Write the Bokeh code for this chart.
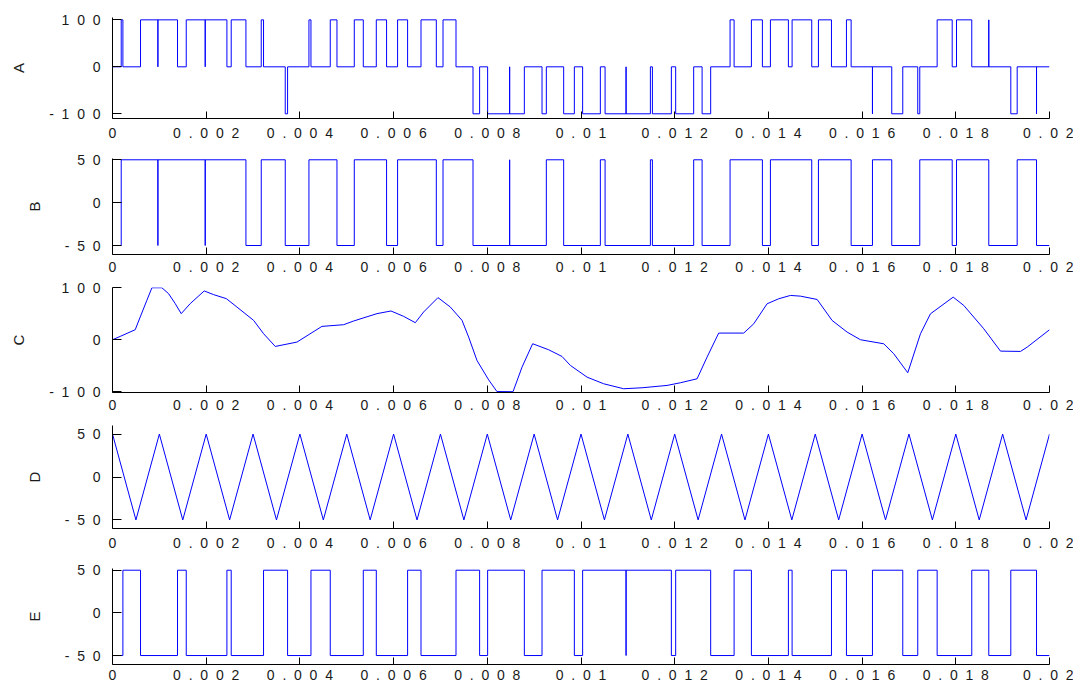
from bokeh.plotting import figure
from bokeh.layouts import column
from bokeh.models import FixedTicker, Range1d, Label
from bokeh.embed import file_html
from bokeh.resources import INLINE

X_TICKS = [0, 0.002, 0.004, 0.006, 0.008, 0.01, 0.012, 0.014, 0.016, 0.018, 0.02]
X_LABELS = ["0", "0.002", "0.004", "0.006", "0.008", "0.01", "0.012", "0.014", "0.016", "0.018", "0.02"]

A_t = [0, 0.000186, 0.000222, 0.000598, 0.000969, 0.000969, 0.001388, 0.001574, 0.001979, 0.001979,
       0.002442, 0.002534, 0.002848, 0.003175, 0.003224, 0.003687, 0.003737, 0.004193, 0.004236, 0.004648,
       0.004791, 0.005161, 0.005353, 0.005631, 0.005850, 0.006085, 0.006299, 0.006585, 0.006912, 0.007055,
       0.007332, 0.007695, 0.007836, 0.008007, 0.008477, 0.008477, 0.008791, 0.009168, 0.009260, 0.009630,
       0.009858, 0.010035, 0.010413, 0.010514, 0.010962, 0.010962, 0.011481, 0.011524, 0.011929, 0.012021,
       0.012405, 0.012585, 0.012768, 0.013182, 0.013268, 0.013637, 0.013872, 0.014043, 0.014427, 0.014506,
       0.014925, 0.015068, 0.015346, 0.015666, 0.015766, 0.016221, 0.016221, 0.016633, 0.016868, 0.017188,
       0.017231, 0.017602, 0.017923, 0.018015, 0.018341, 0.018704, 0.018704, 0.019174, 0.019310, 0.019723,
       0.019723, 0.02]
A_v = [0, 100, 0, 100, 0, 100, 0, 100, 0, 100,
       0, 100, 0, 100, 0, -100, 0, 100, 0, 100,
       0, 100, 0, 100, 0, 100, 0, 100, 0, 100,
       0, -100, 0, -100, 0, -100, 0, -100, 0, -100,
       0, -100, 0, -100, 0, -100, 0, -100, 0, -100,
       0, -100, 0, 100, 0, 100, 0, 100, 0, 100,
       0, 100, 0, 100, 0, -100, 0, -100, 0, -100,
       0, 100, 0, 100, 0, 100, 0, -100, 0, -100,
       0, 0]
A_YTICKS = [-100, 0, 100]
A_YLABELS = ["-100", "0", "100"]

B_t = [0, 0.000186, 0.000969, 0.000969, 0.001979, 0.001979, 0.002848, 0.003175, 0.003687, 0.004193,
       0.004791, 0.005161, 0.005850, 0.006085, 0.006912, 0.007055, 0.007695, 0.008477, 0.008477, 0.009260,
       0.009630, 0.010413, 0.010514, 0.011481, 0.011524, 0.012405, 0.012585, 0.013182, 0.013872, 0.014043,
       0.014925, 0.015068, 0.015766, 0.016221, 0.016633, 0.017231, 0.017923, 0.018015, 0.018704, 0.019310,
       0.019723, 0.02]
B_v = [-50, 50, -50, 50, -50, 50, -50, 50, -50, 50,
       -50, 50, -50, 50, -50, 50, -50, 50, -50, 50,
       -50, 50, -50, 50, -50, 50, -50, 50, -50, 50,
       -50, 50, -50, 50, -50, 50, -50, 50, -50, 50,
       -50, -50]
B_YTICKS = [-50, 0, 50]
B_YLABELS = ["-50", "0", "50"]

C_t = [0, 0.000164, 0.000485, 0.000591, 0.000734, 0.000841, 0.001054, 0.001196, 0.001339, 0.001467,
       0.001659, 0.001958, 0.002157, 0.002428, 0.002655, 0.003011, 0.003225, 0.003474, 0.003937, 0.004470,
       0.004933, 0.005146, 0.005645, 0.005944, 0.006214, 0.006463, 0.006641, 0.006947, 0.007210, 0.007460,
       0.007602, 0.007780, 0.008029, 0.008207, 0.008549, 0.008741, 0.008968, 0.009310, 0.009595, 0.009773,
       0.010129, 0.010484, 0.010911, 0.011303, 0.011837, 0.012121, 0.012478, 0.012691, 0.012939, 0.013473,
       0.013687, 0.013972, 0.014220, 0.014470, 0.014683, 0.015040, 0.015360, 0.015681, 0.015965, 0.016463,
       0.016676, 0.016975, 0.017246, 0.017459, 0.017944, 0.018170, 0.018597, 0.018954, 0.019381, 0.019524,
       0.02]
C_v = [0, 6.4, 19.3, 43.7, 75.9, 100, 100, 88.7, 69.5, 50.2,
       69.5, 93.9, 86.8, 79.1, 63.0, 37.3, 11.6, -12.9, -4.5, 25.7,
       28.9, 36.0, 50.2, 55.3, 45.0, 32.8, 53.4, 81.0, 63.0, 37.3,
       5.1, -39.9, -77.2, -99.7, -100, -52.7, -7.7, -19.3, -32.2, -49.4,
       -71.9, -84.7, -94.3, -92.4, -87.9, -82.8, -75.1, -33.4, 12.8, 12.8,
       30.7, 69.2, 78.8, 85.2, 83.9, 77.5, 37.1, 14.7, 0, -7.8,
       -27.0, -63.5, 11.5, 49.9, 82.0, 66.0, 21.1, -21.9, -22.5, -14.2,
       19.2]
C_YTICKS = [-100, 0, 100]
C_YLABELS = ["-100", "0", "100"]

D_t = [0, 0.0005, 0.001, 0.0015, 0.002, 0.0025, 0.003, 0.0035, 0.004, 0.0045,
       0.005, 0.0055, 0.006, 0.0065, 0.007, 0.0075, 0.008, 0.0085, 0.009, 0.0095,
       0.01, 0.0105, 0.011, 0.0115, 0.012, 0.0125, 0.013, 0.0135, 0.014, 0.0145,
       0.015, 0.0155, 0.016, 0.0165, 0.017, 0.0175, 0.018, 0.0185, 0.019, 0.0195,
       0.02]
D_v = [50, -50, 50, -50, 50, -50, 50, -50, 50, -50,
       50, -50, 50, -50, 50, -50, 50, -50, 50, -50,
       50, -50, 50, -50, 50, -50, 50, -50, 50, -50,
       50, -50, 50, -50, 50, -50, 50, -50, 50, -50,
       50]
D_YTICKS = [-50, 0, 50]
D_YLABELS = ["-50", "0", "50"]

E_t = [0, 0.000222, 0.000598, 0.001388, 0.001574, 0.002442, 0.002534, 0.003224, 0.003737, 0.004236,
       0.004648, 0.005353, 0.005631, 0.006299, 0.006585, 0.007332, 0.007836, 0.008007, 0.008791, 0.009168,
       0.009858, 0.010035, 0.010962, 0.010962, 0.011929, 0.012021, 0.012768, 0.013268, 0.013637, 0.014427,
       0.014506, 0.015346, 0.015666, 0.016221, 0.016868, 0.017188, 0.017602, 0.018341, 0.018704, 0.019174,
       0.019723, 0.02]
E_v = [-50, 50, -50, 50, -50, 50, -50, 50, -50, 50,
       -50, 50, -50, 50, -50, 50, -50, 50, -50, 50,
       -50, 50, -50, 50, -50, 50, -50, 50, -50, 50,
       -50, 50, -50, 50, -50, 50, -50, 50, -50, 50,
       -50, -50]
E_YTICKS = [-50, 0, 50]
E_YLABELS = ["-50", "0", "50"]

FONT = "Liberation Sans"
BLUE = "#0000ff"
GAP = "\u00a0\u00a0"   # the reference prints its tick labels letter-spaced


def spaced(s):
    return GAP.join(s)


def make_fig(name, yr, yticks, ylabels, frame_h, top, bottom, xstand):
    p = figure(frame_width=937, frame_height=frame_h,
               min_border_left=112, min_border_right=24,
               min_border_top=top, min_border_bottom=bottom,
               x_range=Range1d(0, 0.02), y_range=Range1d(*yr),
               output_backend="svg", toolbar_location=None)
    p.outline_line_color = None
    p.grid.visible = False
    p.background_fill_color = "white"
    p.border_fill_color = "white"
    for ax in (p.xaxis[0], p.yaxis[0]):
        ax.axis_line_color = "black"
        ax.major_tick_line_color = "black"
        ax.minor_tick_line_color = None
        ax.major_tick_out = 0
        ax.major_label_text_font = FONT
        ax.major_label_text_font_size = "14px"
        ax.major_label_text_color = "#1a1a1a"
    p.xaxis.ticker = FixedTicker(ticks=X_TICKS)
    p.xaxis.major_label_overrides = {t: spaced(s) for t, s in zip(X_TICKS, X_LABELS)}
    p.xaxis.major_tick_in = 7
    p.xaxis.major_label_standoff = xstand
    p.yaxis.ticker = FixedTicker(ticks=yticks)
    p.yaxis.major_label_overrides = {t: spaced(s) for t, s in zip(yticks, ylabels)}
    p.yaxis.major_tick_in = 9
    p.yaxis.major_label_standoff = 12
    p.yaxis.axis_label = name
    p.yaxis.axis_label_text_font = FONT
    p.yaxis.axis_label_text_font_style = "normal"
    p.yaxis.axis_label_text_font_size = "15px"
    p.yaxis.axis_label_text_color = "#1a1a1a"
    p.yaxis.axis_label_standoff = 19
    return p


pA = make_fig("A", (-110, 105), A_YTICKS, A_YLABELS, 101, 17, 26, 6)
pA.step(A_t, A_v, mode="after", line_color=BLUE, line_width=1)

pB = make_fig("B", (-60.5, 51.5), B_YTICKS, B_YLABELS, 96, 14, 24, 4)
pB.step(B_t, B_v, mode="after", line_color=BLUE, line_width=1)
pB.add_layout(Label(x=0.0099, y=-74.5, text="C", text_font=FONT,
                    text_font_size="15px", text_color="#1a1a1a", text_align="center",
                    text_baseline="middle"))

pC = make_fig("C", (-101.5, 100.5), C_YTICKS, C_YLABELS, 105, 9, 24, 4)
pC.line(C_t, C_v, line_color=BLUE, line_width=1)

pD = make_fig("D", (-60, 60), D_YTICKS, D_YLABELS, 103, 9, 26, 6)
pD.line(D_t, D_v, line_color=BLUE, line_width=1)

pE = make_fig("E", (-60.5, 52), E_YTICKS, E_YLABELS, 96, 14, 22, 2)
pE.step(E_t, E_v, mode="after", line_color=BLUE, line_width=1)

layout = column(pA, pB, pC, pD, pE, spacing=0)

open("out.html", "w").write(file_html(layout, INLINE))
